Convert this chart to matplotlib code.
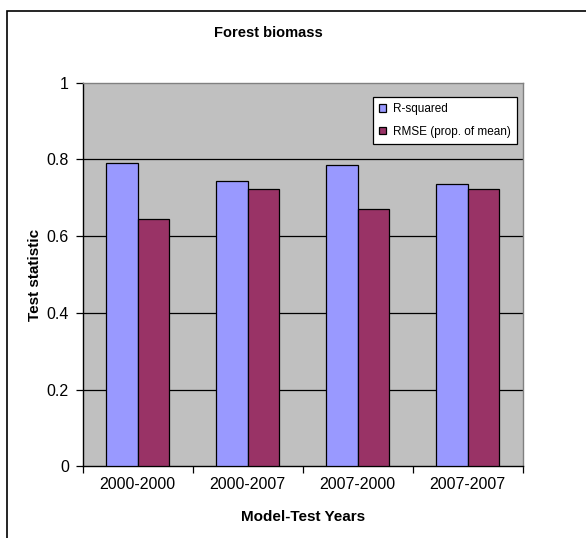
import matplotlib.pyplot as plt
import numpy as np
from matplotlib.patches import Rectangle

plt.rcParams['font.family'] = ['Liberation Sans', 'DejaVu Sans']

# Data
years = ['2000-2000', '2000-2007', '2007-2000', '2007-2007']
r_squared = [0.791, 0.743, 0.785, 0.737]
rmse = [0.645, 0.723, 0.670, 0.723]

W, H = 586, 538
fig = plt.figure(figsize=(W / 100, H / 100), dpi=100)

# axes area in pixels (left, top, right, bottom)
l, t, r, b = 82.7, 82.7, 522.7, 466.3
ax = fig.add_axes([l / W, 1 - b / H, (r - l) / W, (b - t) / H])
ax.set_facecolor('#C0C0C0')

x = np.arange(len(years))
bw = 0.286
ax.bar(x - bw / 2, r_squared, bw, color='#9999FF', edgecolor='black', linewidth=0.9,
       label='R-squared', zorder=3)
ax.bar(x + bw / 2, rmse, bw, color='#993366', edgecolor='black', linewidth=0.9,
       label='RMSE (prop. of mean)', zorder=3)

ax.set_xlim(-0.5, len(years) - 0.5)
ax.set_ylim(0, 1)
ax.set_yticks([0, 0.2, 0.4, 0.6, 0.8, 1])
ax.set_yticklabels(['0', '0.2', '0.4', '0.6', '0.8', '1'])
for yv in [0.2, 0.4, 0.6, 0.8]:
    ax.axhline(yv, color='black', linewidth=0.9, zorder=1)

ax.set_xticks(x)
ax.set_xticklabels(years)
ax.set_xticks(np.arange(len(years) + 1) - 0.5, minor=True)
ax.tick_params(axis='x', which='major', length=0, pad=8, labelsize=11.5)
ax.tick_params(axis='x', which='minor', length=5, width=0.9, direction='out')
ax.tick_params(axis='y', length=5, width=0.9, direction='out', pad=5, labelsize=11.5)

ax.spines['left'].set_color('black')
ax.spines['bottom'].set_color('black')
ax.spines['top'].set_color('#808080')
ax.spines['right'].set_color('#808080')
for s in ax.spines.values():
    s.set_linewidth(1.0)

ax.set_xlabel('Model-Test Years', fontsize=11, fontweight='bold', labelpad=13)
ax.set_ylabel('Test statistic', fontsize=11, fontweight='bold', labelpad=3)
fig.text(268 / W, 1 - 33 / H, 'Forest biomass', fontsize=10.5, fontweight='bold',
         ha='center', va='center')

leg = ax.legend(loc='upper left', bbox_to_anchor=(373 / W, 1 - 97.3 / H),
                bbox_transform=fig.transFigure, fontsize=8.5, fancybox=False,
                framealpha=1, edgecolor='black', handlelength=0.6, handleheight=0.6,
                handletextpad=0.6, borderpad=0.5, labelspacing=0.9, borderaxespad=0)
leg.get_frame().set_linewidth(0.9)
leg.set_zorder(5)

# outer chart border
fig.patches.append(Rectangle((7 / W, -0.1), 1.2, 1 - 10.5 / H + 0.1,
                             transform=fig.transFigure, fill=False,
                             edgecolor='black', linewidth=1.2))

fig.savefig('out.png', dpi=100)
